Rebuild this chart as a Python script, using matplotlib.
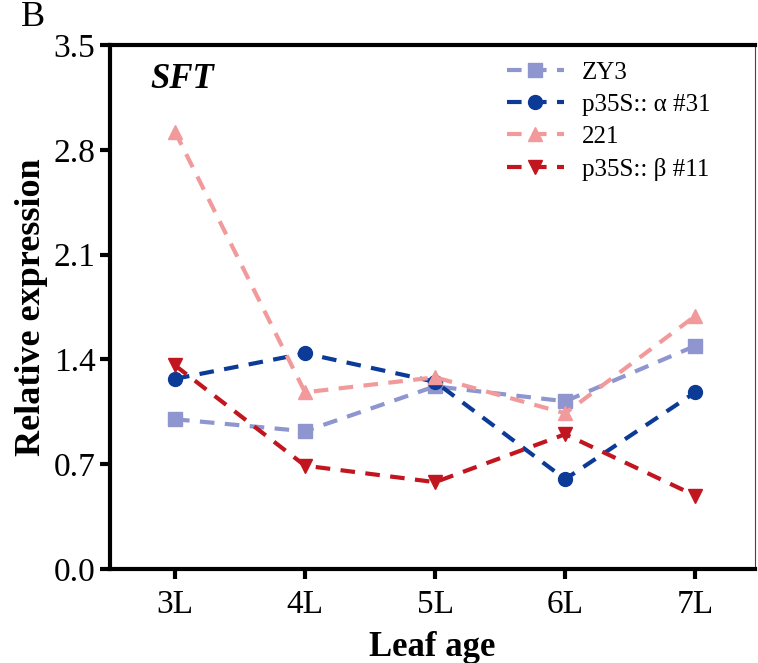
import matplotlib
matplotlib.use("Agg")
import matplotlib.pyplot as plt

categories = ["3L", "4L", "5L", "6L", "7L"]
zy3 = [1.00, 0.92, 1.22, 1.12, 1.49]
alpha31 = [1.27, 1.44, 1.25, 0.60, 1.18]
s221 = [2.92, 1.18, 1.28, 1.04, 1.69]
beta11 = [1.36, 0.69, 0.58, 0.90, 0.49]
yticks = [0.0, 0.7, 1.4, 2.1, 2.8, 3.5]

plt.rcParams['font.family'] = ['Liberation Serif', 'DejaVu Serif']

fig = plt.figure(figsize=(7.58, 6.63), dpi=100)
ax = fig.add_axes([0.1451, 0.1418, 0.851, 0.7904])

x = list(range(len(categories)))
series = [
    ("ZY3", zy3, "#8e95cf", "s"),
    ("p35S:: \u03b1 #31", alpha31, "#0b3b97", "o"),
    ("221", s221, "#f29a9b", "^"),
    ("p35S:: \u03b2 #11", beta11, "#c1161f", "v"),
]
for label, vals, col, mk in series:
    ax.plot(x, vals, linestyle=(0, (3.5, 2.5)), lw=3, color=col, marker=mk,
            markersize=10, label=label)

ax.set_xlim(-0.5, 4.46)
ax.set_ylim(0, 3.5)
ax.set_xticks(x)
ax.set_xticklabels(categories)
ax.set_yticks(yticks)
ax.set_yticklabels([f"{v:.1f}" for v in yticks])
ax.tick_params(axis='both', labelsize=24, width=3, length=7, direction='out')
ax.tick_params(axis='x', pad=8)
for s in ['left', 'bottom', 'top']:
    ax.spines[s].set_linewidth(3)
ax.spines['right'].set_linewidth(0.8)
ax.spines['right'].set_color('#444444')

ax.set_xlabel("Leaf age", fontsize=25, fontweight='bold', labelpad=8)
ax.set_ylabel("Relative expression", fontsize=26, fontweight='bold', labelpad=4)

ax.text(0.062, 0.965, "SFT", transform=ax.transAxes, fontsize=25,
        fontweight='bold', fontstyle='italic', va='top', ha='left')
fig.text(0.028, 0.998, "B", fontsize=26, va='top', ha='left')

leg = ax.legend(loc='upper left', bbox_to_anchor=(0.615, 0.968), frameon=False,
                fontsize=18, handlelength=2.3, handletextpad=0.7,
                labelspacing=0.38, borderaxespad=0.0, borderpad=0.0)

fig.savefig("out.png", dpi=100)
